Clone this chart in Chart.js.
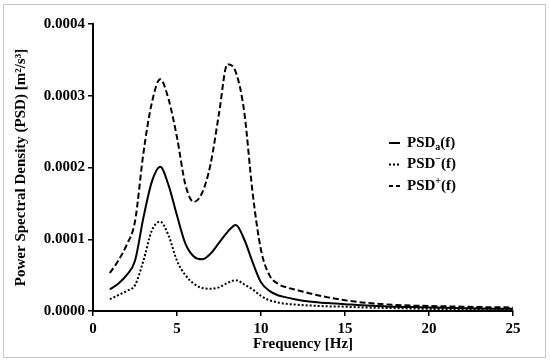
<!DOCTYPE html>
<html lang="en">
<head>
    <meta charset="UTF-8">
    <title>Power Spectral Density</title>
    <script src="https://cdn.jsdelivr.net/npm/chart.js"></script>
    <style>
        body {
            margin: 0;
            background: #ffffff;
        }
        .wrap {
            position: relative;
            width: 550px;
            height: 364px;
        }
        /* thin grey frame around the figure */
        .frame {
            position: absolute;
            left: 3px;
            top: 4px;
            width: 543px;
            height: 354px;
            box-sizing: border-box;
            border: 1px solid #c8c8c8;
            pointer-events: none;
        }
        canvas {
            position: absolute;
            left: 0;
            top: 0;
        }
    </style>
</head>
<body>

<div class="wrap">
    <canvas id="psdChart" width="550" height="364"></canvas>
    <div class="frame"></div>
</div>

<script>
    // frequencies [Hz]
    const freq = [1, 1.5, 2, 2.5, 3, 3.5, 4, 4.5, 5, 5.5, 6, 6.5, 7, 7.5, 8, 8.5, 9, 9.5,
                  10, 10.5, 11, 11.5, 12, 13, 14, 15, 16, 17, 18, 19, 20, 21, 22, 23, 24, 25];

    // PSDa(f)
    const psdA = [0.000030, 0.000038, 0.000050, 0.000070, 0.000130, 0.000180, 0.000201, 0.000175,
                  0.000133, 0.000094, 0.000076, 0.000072, 0.000080, 0.000095, 0.000110, 0.000120,
                  0.000100, 0.000068, 0.000040, 0.000028, 0.000022, 0.000019, 0.0000165, 0.000013,
                  0.000011, 0.0000095, 0.000008, 0.000007, 0.000006, 0.0000055, 0.000005, 0.0000045,
                  0.000004, 0.0000035, 0.0000032, 0.000003];

    // PSD-(f)
    const psdMinus = [0.0000165, 0.000022, 0.000028, 0.000036, 0.000070, 0.000112, 0.0001245, 0.000105,
                      0.000070, 0.000050, 0.000038, 0.000032, 0.000031, 0.000033, 0.000039, 0.000043,
                      0.000037, 0.000030, 0.000021, 0.000015, 0.000012, 0.000010, 0.000009, 0.0000075,
                      0.0000065, 0.000006, 0.000005, 0.0000045, 0.000004, 0.0000035, 0.000003, 0.0000028,
                      0.0000025, 0.0000022, 0.000002, 0.000002];

    // PSD+(f)
    const psdPlus = [0.000053, 0.000070, 0.000092, 0.000125, 0.000220, 0.000290, 0.000323, 0.000295,
                     0.000242, 0.000176, 0.000152, 0.000165, 0.000205, 0.000275, 0.000344, 0.000333,
                     0.000278, 0.000165, 0.000085, 0.000050, 0.000038, 0.000033, 0.000030, 0.000024,
                     0.000019, 0.000015, 0.000012, 0.000010, 0.0000085, 0.0000075, 0.000007, 0.0000065,
                     0.000006, 0.0000055, 0.0000052, 0.000005];

    const xTicks = [0, 5, 10, 15, 20, 25];
    const yTicks = [0, 0.0001, 0.0002, 0.0003, 0.0004];

    // legend labels: main text, script text, script kind, tail
    const legendItems = [
        ['PSD', 'a', 'sub', '(f)'],
        ['PSD', '\u2212', 'sup', '(f)'],
        ['PSD', '+', 'sup', '(f)']
    ];

    const serif = "'Liberation Serif', 'Times New Roman', serif";

    function toPoints(values) {
        return freq.map((f, i) => ({ x: f, y: values[i] }));
    }

    // legend drawn by hand so the sub/superscripts come out right
    const scriptLegend = {
        id: 'scriptLegend',
        afterDraw(chart) {
            const ctx = chart.ctx;
            const x0 = 389, x1 = 400, tx = 407;
            const rows = [143, 164.5, 186];
            ctx.save();
            chart.data.datasets.forEach((ds, i) => {
                const y = rows[i];
                ctx.beginPath();
                ctx.strokeStyle = ds.borderColor;
                ctx.lineWidth = ds.borderWidth;
                ctx.setLineDash(i === 2 ? [4, 3] : (ds.borderDash || []));
                ctx.moveTo(x0, y);
                ctx.lineTo(x1, y);
                ctx.stroke();
                ctx.setLineDash([]);

                const item = legendItems[i];
                ctx.fillStyle = '#000';
                ctx.textBaseline = 'middle';
                ctx.textAlign = 'left';
                ctx.font = 'bold 15px ' + serif;
                let x = tx;
                ctx.fillText(item[0], x, y);
                x += ctx.measureText(item[0]).width;
                ctx.font = 'bold 10px ' + serif;
                const dy = item[2] === 'sub' ? 4 : -5;
                ctx.fillText(item[1], x, y + dy);
                x += ctx.measureText(item[1]).width;
                ctx.font = 'bold 15px ' + serif;
                ctx.fillText(item[3], x, y);
            });
            ctx.restore();
        }
    };

    const ctx = document.getElementById('psdChart').getContext('2d');
    new Chart(ctx, {
        type: 'line',
        data: {
            datasets: [
                {
                    label: 'PSDa(f)',
                    data: toPoints(psdA),
                    borderColor: '#000',
                    borderWidth: 2,
                    pointRadius: 0,
                    cubicInterpolationMode: 'monotone'
                },
                {
                    label: 'PSD-(f)',
                    data: toPoints(psdMinus),
                    borderColor: '#000',
                    borderWidth: 2,
                    borderDash: [2, 2],
                    pointRadius: 0,
                    cubicInterpolationMode: 'monotone'
                },
                {
                    label: 'PSD+(f)',
                    data: toPoints(psdPlus),
                    borderColor: '#000',
                    borderWidth: 2,
                    borderDash: [6, 3],
                    pointRadius: 0,
                    cubicInterpolationMode: 'monotone'
                }
            ]
        },
        options: {
            responsive: false,
            animation: false,
            layout: {
                padding: { left: 0, right: 37, top: 24, bottom: 0 }
            },
            plugins: {
                legend: { display: false },
                tooltip: { enabled: false }
            },
            scales: {
                x: {
                    type: 'linear',
                    min: 0,
                    max: 25,
                    afterBuildTicks: (scale) => {
                        scale.ticks = xTicks.map(v => ({ value: v }));
                    },
                    afterFit: (scale) => { scale.height = 53; },
                    grid: { drawOnChartArea: false, tickLength: 5, color: '#000', lineWidth: 1.5 },
                    border: { color: '#000', width: 2 },
                    ticks: {
                        color: '#000',
                        padding: 4,
                        font: { family: serif, size: 15, weight: 'bold' }
                    },
                    title: {
                        display: true,
                        text: 'Frequency [Hz]',
                        color: '#000',
                        padding: { top: 0, bottom: 11 },
                        font: { family: serif, size: 15, weight: 'bold' }
                    }
                },
                y: {
                    min: 0,
                    max: 0.0004,
                    afterBuildTicks: (scale) => {
                        scale.ticks = yTicks.map(v => ({ value: v }));
                    },
                    afterFit: (scale) => { scale.width = 93; },
                    grid: { drawOnChartArea: false, tickLength: 5, color: '#000', lineWidth: 1.5 },
                    border: { color: '#000', width: 2 },
                    ticks: {
                        color: '#000',
                        padding: 3,
                        font: { family: serif, size: 15, weight: 'bold' },
                        callback: (v) => v.toFixed(4)
                    },
                    title: {
                        display: true,
                        text: 'Power Spectral Density (PSD) [m\u00b2/s\u00b3]',
                        color: '#000',
                        padding: { top: 12, bottom: 0 },
                        font: { family: serif, size: 15, weight: 'bold' }
                    }
                }
            }
        },
        plugins: [scriptLegend]
    });
</script>

</body>
</html>
